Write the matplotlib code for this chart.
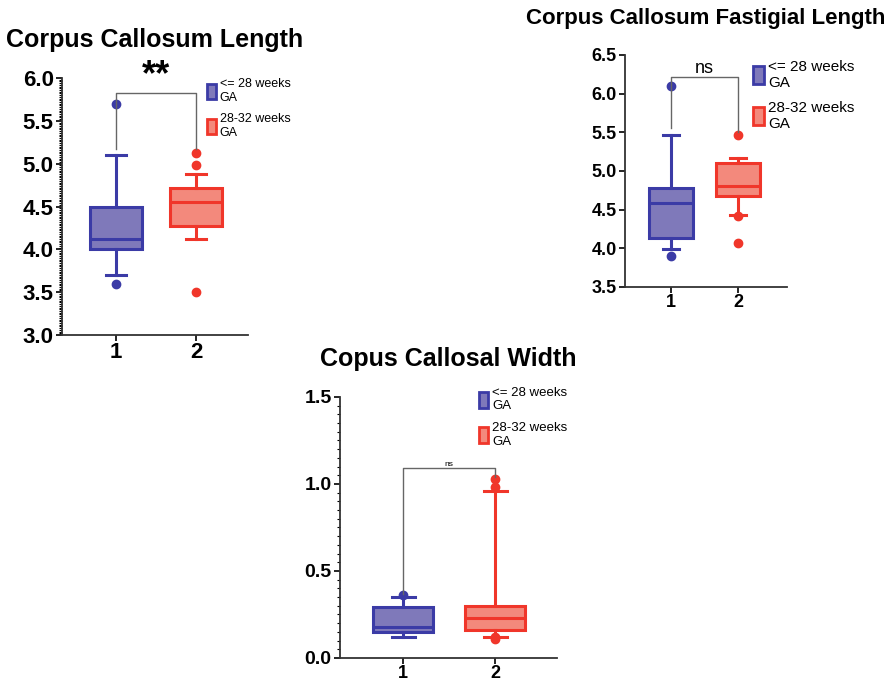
import matplotlib.pyplot as plt
from matplotlib.patches import Patch
from matplotlib.ticker import MultipleLocator

plt.rcParams['font.family'] = ['Liberation Sans', 'DejaVu Sans']

groups = ['<= 28 weeks\nGA', '28-32 weeks\nGA']
positions = [1, 2]
edge_colors = ['#3b3ba6', '#f0362a']
fill_colors = ['#7f79ba', '#f3897c']

# box summaries: [whislo, q1, med, q3, whishi]
cc_length = [[3.70, 4.00, 4.12, 4.50, 5.10], [4.12, 4.27, 4.55, 4.72, 4.88]]
cc_length_fliers = [[5.70, 3.60], [5.12, 4.98, 3.50]]

ccf_length = [[3.99, 4.13, 4.58, 4.78, 5.47], [4.43, 4.68, 4.80, 5.10, 5.17]]
ccf_length_fliers = [[6.10, 3.90], [5.47, 4.42, 4.07]]

cc_width = [[0.12, 0.15, 0.18, 0.29, 0.35], [0.12, 0.16, 0.23, 0.30, 0.96]]
cc_width_fliers = [[0.36], [1.03, 0.98, 0.11, 0.12]]


def box_stats(summary, fliers):
  out = []
  for s, f in zip(summary, fliers):
    out.append({'whislo': s[0], 'q1': s[1], 'med': s[2], 'q3': s[3],
                'whishi': s[4], 'fliers': f})
  return out


def draw_panel(fig, rect, title, summary, fliers, ylim, major, minor, xlim,
               tick_fs, xtick_fs, title_fs, leg_fs, leg_anchor, leg_space,
               bracket, label, label_fs):
  ax = fig.add_axes(rect)
  stats = box_stats(summary, fliers)
  for i, st in enumerate(stats):
    ec = edge_colors[i]
    ax.bxp([st], positions=[positions[i]], widths=0.65, patch_artist=True,
           showfliers=True, manage_ticks=False,
           boxprops=dict(facecolor=fill_colors[i], edgecolor=ec, linewidth=2.2),
           medianprops=dict(color=ec, linewidth=2.2),
           whiskerprops=dict(color=ec, linewidth=2.2),
           capprops=dict(color=ec, linewidth=2.2),
           capwidths=0.25,
           flierprops=dict(marker='o', markerfacecolor=ec, markeredgecolor=ec,
                           markersize=6))
  ax.set_xlim(*xlim)
  ax.set_ylim(*ylim)
  ax.set_xticks(positions)
  ax.set_xticklabels(['1', '2'])
  ax.yaxis.set_major_locator(MultipleLocator(major))
  ax.yaxis.set_major_formatter(plt.FormatStrFormatter('%.1f'))
  if minor:
    ax.yaxis.set_minor_locator(MultipleLocator(minor))
    ax.tick_params(axis='y', which='minor', length=2, width=0.8)
  for lab in ax.get_xticklabels() + ax.get_yticklabels():
    lab.set_fontweight('bold')
  ax.tick_params(axis='y', which='major', labelsize=tick_fs, length=4,
                 width=1.2, pad=2)
  ax.tick_params(axis='x', which='major', labelsize=xtick_fs, length=4,
                 width=1.2, pad=1)
  for side in ['top', 'right']:
    ax.spines[side].set_visible(False)
  for side in ['left', 'bottom']:
    ax.spines[side].set_linewidth(1.3)
    ax.spines[side].set_color('#333333')
  ax.set_title(title, fontsize=title_fs, fontweight='bold', pad=22)

  # significance bracket
  y_top, y_left, y_right = bracket
  ax.plot([1, 1, 2, 2], [y_left, y_top, y_top, y_right], color='#666666', lw=1.0)
  ax.text(1.5, y_top, label, ha='center', va='bottom', fontsize=label_fs,
          fontweight='bold' if label == '**' else 'normal')

  handles = [Patch(facecolor=fill_colors[i], edgecolor=edge_colors[i], linewidth=2)
             for i in range(2)]
  ax.legend(handles, groups, loc='upper left', bbox_to_anchor=leg_anchor,
            frameon=False, fontsize=leg_fs, handlelength=0.7, handleheight=1.5,
            handletextpad=0.3, labelspacing=leg_space, borderaxespad=0,
            borderpad=0)
  return ax


fig = plt.figure(figsize=(8.87, 6.83), dpi=100)

draw_panel(fig, [0.0699, 0.5095, 0.2097, 0.3763], 'Corpus Callosum Length',
           cc_length, cc_length_fliers, (3.0, 6.0), 0.5, 0.02, (0.325, 2.65),
           16, 16, 18, 9, (0.78, 1.0), 0.75, (5.82, 5.17, 5.17), '**', 26)

draw_panel(fig, [0.7046, 0.5798, 0.1827, 0.3397],
           'Corpus Callosum Fastigial Length',
           ccf_length, ccf_length_fliers, (3.5, 6.5), 0.5, None, (0.313, 2.73),
           13, 13, 16, 11, (0.79, 0.98), 0.7, (6.22, 5.56, 5.50), 'ns', 13)

draw_panel(fig, [0.3833, 0.0367, 0.2447, 0.3821], 'Copus Callosal Width',
           cc_width, cc_width_fliers, (0.0, 1.5), 0.5, 0.05, (0.315, 2.67),
           14, 13, 18, 9.5, (0.64, 1.04), 0.75, (1.09, 0.37, 1.04), 'ns', 6)

fig.savefig('out.png', dpi=100)
